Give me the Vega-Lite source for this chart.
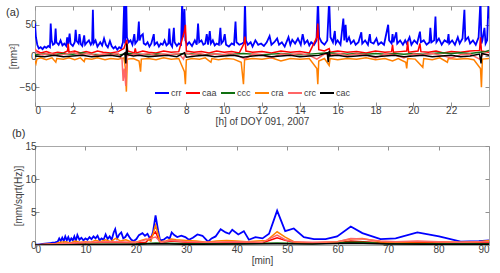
{
"$schema": "https://vega.github.io/schema/vega-lite/v6.json",
"padding": {"left": 5, "top": 5, "right": 3, "bottom": 2},
"config": {
  "font": "Liberation Sans",
  "view": {"stroke": "#a8a8a8"},
  "axis": {"labelFont": "Liberation Sans", "labelFontSize": 10, "labelColor": "#404040", "titleFont": "Liberation Sans", "titleFontSize": 10, "titleFontWeight": "normal", "titleColor": "#404040", "grid": false, "domain": false, "tickColor": "#909090", "tickSize": -4, "labelPadding": 3, "titlePadding": 1},
  "title": {"font": "Liberation Sans", "fontSize": 11, "fontWeight": "normal", "color": "#303030"},
  "legend": {"labelFont": "Liberation Sans"}
},
"spacing": 0,
"resolve": {"scale": {"color": "independent"}, "legend": {"color": "independent"}},
"datasets": {
"a": [
{"s":"crr","h":0,"v":52},{"s":"crr","h":0.05,"v":30},{"s":"crr","h":0.12,"v":18},{"s":"crr","h":0.2,"v":12},{"s":"crr","h":0.3,"v":14},{"s":"crr","h":0.4,"v":11},{"s":"crr","h":0.5,"v":15},{"s":"crr","h":0.6,"v":13},{"s":"crr","h":0.7,"v":16},{"s":"crr","h":0.79,"v":14},{"s":"crr","h":0.83,"v":52},{"s":"crr","h":0.88,"v":25},{"s":"crr","h":0.95,"v":18},{"s":"crr","h":1.04,"v":20},{"s":"crr","h":1.09,"v":44},{"s":"crr","h":1.13,"v":22},{"s":"crr","h":1.25,"v":18},{"s":"crr","h":1.35,"v":25},{"s":"crr","h":1.45,"v":17},{"s":"crr","h":1.55,"v":20},{"s":"crr","h":1.65,"v":16},{"s":"crr","h":1.7,"v":30},{"s":"crr","h":1.75,"v":18},{"s":"crr","h":1.83,"v":36},{"s":"crr","h":1.88,"v":20},{"s":"crr","h":2.0,"v":16},{"s":"crr","h":2.1,"v":22},{"s":"crr","h":2.15,"v":42},{"s":"crr","h":2.2,"v":24},{"s":"crr","h":2.3,"v":20},{"s":"crr","h":2.35,"v":35},{"s":"crr","h":2.42,"v":19},{"s":"crr","h":2.5,"v":16},{"s":"crr","h":2.6,"v":33},{"s":"crr","h":2.65,"v":18},{"s":"crr","h":2.75,"v":22},{"s":"crr","h":2.85,"v":25},{"s":"crr","h":2.95,"v":18},{"s":"crr","h":3.02,"v":22},{"s":"crr","h":3.06,"v":74},{"s":"crr","h":3.1,"v":20},{"s":"crr","h":3.2,"v":25},{"s":"crr","h":3.3,"v":15},{"s":"crr","h":3.45,"v":22},{"s":"crr","h":3.55,"v":17},{"s":"crr","h":3.65,"v":28},{"s":"crr","h":3.75,"v":18},{"s":"crr","h":3.85,"v":14},{"s":"crr","h":3.96,"v":24},{"s":"crr","h":4.05,"v":16},{"s":"crr","h":4.15,"v":12},{"s":"crr","h":4.25,"v":15},{"s":"crr","h":4.35,"v":10},{"s":"crr","h":4.45,"v":14},{"s":"crr","h":4.55,"v":12},{"s":"crr","h":4.65,"v":22},{"s":"crr","h":4.72,"v":90},{"s":"crr","h":4.76,"v":20},{"s":"crr","h":4.82,"v":92},{"s":"crr","h":4.86,"v":30},{"s":"crr","h":4.95,"v":22},{"s":"crr","h":5.05,"v":25},{"s":"crr","h":5.15,"v":18},{"s":"crr","h":5.25,"v":35},{"s":"crr","h":5.3,"v":20},{"s":"crr","h":5.42,"v":25},{"s":"crr","h":5.49,"v":55},{"s":"crr","h":5.53,"v":25},{"s":"crr","h":5.6,"v":32},{"s":"crr","h":5.7,"v":35},{"s":"crr","h":5.75,"v":20},{"s":"crr","h":5.85,"v":18},{"s":"crr","h":5.95,"v":22},{"s":"crr","h":6.05,"v":15},{"s":"crr","h":6.15,"v":20},{"s":"crr","h":6.28,"v":35},{"s":"crr","h":6.32,"v":18},{"s":"crr","h":6.45,"v":22},{"s":"crr","h":6.55,"v":15},{"s":"crr","h":6.65,"v":20},{"s":"crr","h":6.75,"v":18},{"s":"crr","h":6.85,"v":25},{"s":"crr","h":6.95,"v":17},{"s":"crr","h":7.05,"v":20},{"s":"crr","h":7.1,"v":44},{"s":"crr","h":7.15,"v":20},{"s":"crr","h":7.25,"v":15},{"s":"crr","h":7.34,"v":45},{"s":"crr","h":7.38,"v":22},{"s":"crr","h":7.5,"v":16},{"s":"crr","h":7.6,"v":20},{"s":"crr","h":7.72,"v":18},{"s":"crr","h":7.78,"v":90},{"s":"crr","h":7.82,"v":30},{"s":"crr","h":7.9,"v":75},{"s":"crr","h":7.95,"v":25},{"s":"crr","h":8.05,"v":18},{"s":"crr","h":8.15,"v":22},{"s":"crr","h":8.3,"v":16},{"s":"crr","h":8.45,"v":25},{"s":"crr","h":8.55,"v":18},{"s":"crr","h":8.62,"v":52},{"s":"crr","h":8.68,"v":22},{"s":"crr","h":8.8,"v":25},{"s":"crr","h":8.9,"v":18},{"s":"crr","h":9.0,"v":20},{"s":"crr","h":9.08,"v":35},{"s":"crr","h":9.15,"v":18},{"s":"crr","h":9.24,"v":40},{"s":"crr","h":9.3,"v":20},{"s":"crr","h":9.4,"v":25},{"s":"crr","h":9.5,"v":17},{"s":"crr","h":9.6,"v":20},{"s":"crr","h":9.72,"v":18},{"s":"crr","h":9.8,"v":45},{"s":"crr","h":9.85,"v":20},{"s":"crr","h":9.95,"v":24},{"s":"crr","h":10.03,"v":35},{"s":"crr","h":10.1,"v":18},{"s":"crr","h":10.25,"v":15},{"s":"crr","h":10.4,"v":20},{"s":"crr","h":10.52,"v":18},{"s":"crr","h":10.6,"v":55},{"s":"crr","h":10.65,"v":22},{"s":"crr","h":10.8,"v":18},{"s":"crr","h":10.95,"v":20},{"s":"crr","h":11.05,"v":22},{"s":"crr","h":11.1,"v":88},{"s":"crr","h":11.15,"v":25},{"s":"crr","h":11.25,"v":18},{"s":"crr","h":11.4,"v":22},{"s":"crr","h":11.5,"v":15},{"s":"crr","h":11.65,"v":25},{"s":"crr","h":11.8,"v":18},{"s":"crr","h":11.95,"v":20},{"s":"crr","h":12.1,"v":16},{"s":"crr","h":12.25,"v":22},{"s":"crr","h":12.4,"v":32},{"s":"crr","h":12.5,"v":18},{"s":"crr","h":12.65,"v":22},{"s":"crr","h":12.8,"v":28},{"s":"crr","h":12.9,"v":18},{"s":"crr","h":13.05,"v":22},{"s":"crr","h":13.2,"v":15},{"s":"crr","h":13.4,"v":30},{"s":"crr","h":13.5,"v":18},{"s":"crr","h":13.6,"v":26},{"s":"crr","h":13.75,"v":20},{"s":"crr","h":13.9,"v":28},{"s":"crr","h":14.05,"v":18},{"s":"crr","h":14.15,"v":35},{"s":"crr","h":14.25,"v":20},{"s":"crr","h":14.4,"v":25},{"s":"crr","h":14.5,"v":17},{"s":"crr","h":14.6,"v":22},{"s":"crr","h":14.75,"v":18},{"s":"crr","h":14.88,"v":25},{"s":"crr","h":14.96,"v":90},{"s":"crr","h":15.02,"v":30},{"s":"crr","h":15.15,"v":22},{"s":"crr","h":15.3,"v":18},{"s":"crr","h":15.45,"v":25},{"s":"crr","h":15.55,"v":90},{"s":"crr","h":15.62,"v":30},{"s":"crr","h":15.75,"v":22},{"s":"crr","h":15.85,"v":40},{"s":"crr","h":15.9,"v":20},{"s":"crr","h":16.0,"v":25},{"s":"crr","h":16.15,"v":18},{"s":"crr","h":16.3,"v":60},{"s":"crr","h":16.35,"v":25},{"s":"crr","h":16.42,"v":50},{"s":"crr","h":16.48,"v":22},{"s":"crr","h":16.6,"v":30},{"s":"crr","h":16.7,"v":20},{"s":"crr","h":16.85,"v":25},{"s":"crr","h":16.95,"v":18},{"s":"crr","h":17.1,"v":22},{"s":"crr","h":17.25,"v":38},{"s":"crr","h":17.3,"v":20},{"s":"crr","h":17.45,"v":25},{"s":"crr","h":17.6,"v":18},{"s":"crr","h":17.7,"v":35},{"s":"crr","h":17.75,"v":22},{"s":"crr","h":17.9,"v":20},{"s":"crr","h":18.05,"v":28},{"s":"crr","h":18.15,"v":18},{"s":"crr","h":18.3,"v":22},{"s":"crr","h":18.45,"v":18},{"s":"crr","h":18.6,"v":40},{"s":"crr","h":18.67,"v":50},{"s":"crr","h":18.72,"v":25},{"s":"crr","h":18.85,"v":20},{"s":"crr","h":18.9,"v":35},{"s":"crr","h":18.95,"v":22},{"s":"crr","h":19.1,"v":38},{"s":"crr","h":19.15,"v":20},{"s":"crr","h":19.3,"v":25},{"s":"crr","h":19.45,"v":18},{"s":"crr","h":19.57,"v":25},{"s":"crr","h":19.65,"v":20},{"s":"crr","h":19.8,"v":30},{"s":"crr","h":19.9,"v":18},{"s":"crr","h":20.05,"v":25},{"s":"crr","h":20.2,"v":20},{"s":"crr","h":20.35,"v":39},{"s":"crr","h":20.4,"v":22},{"s":"crr","h":20.55,"v":25},{"s":"crr","h":20.7,"v":18},{"s":"crr","h":20.85,"v":22},{"s":"crr","h":20.9,"v":45},{"s":"crr","h":20.96,"v":22},{"s":"crr","h":21.1,"v":25},{"s":"crr","h":21.17,"v":63},{"s":"crr","h":21.22,"v":22},{"s":"crr","h":21.35,"v":28},{"s":"crr","h":21.5,"v":18},{"s":"crr","h":21.65,"v":25},{"s":"crr","h":21.8,"v":22},{"s":"crr","h":21.86,"v":35},{"s":"crr","h":21.9,"v":20},{"s":"crr","h":22.05,"v":25},{"s":"crr","h":22.2,"v":18},{"s":"crr","h":22.35,"v":30},{"s":"crr","h":22.45,"v":20},{"s":"crr","h":22.6,"v":28},{"s":"crr","h":22.7,"v":74},{"s":"crr","h":22.75,"v":25},{"s":"crr","h":22.9,"v":30},{"s":"crr","h":23.0,"v":20},{"s":"crr","h":23.15,"v":25},{"s":"crr","h":23.3,"v":18},{"s":"crr","h":23.45,"v":30},{"s":"crr","h":23.55,"v":90},{"s":"crr","h":23.6,"v":20},{"s":"crr","h":23.65,"v":25},{"s":"crr","h":23.76,"v":45},{"s":"crr","h":23.82,"v":20},{"s":"crr","h":23.9,"v":25},{"s":"crr","h":23.97,"v":85},{"s":"crr","h":24,"v":60},
{"s":"caa","h":0,"v":10},{"s":"caa","h":0.1,"v":8},{"s":"caa","h":0.3,"v":5},{"s":"caa","h":0.6,"v":7},{"s":"caa","h":0.9,"v":4},{"s":"caa","h":1.2,"v":6},{"s":"caa","h":1.5,"v":5},{"s":"caa","h":1.72,"v":8},{"s":"caa","h":1.75,"v":20},{"s":"caa","h":1.8,"v":6},{"s":"caa","h":2.1,"v":8},{"s":"caa","h":2.4,"v":5},{"s":"caa","h":2.7,"v":7},{"s":"caa","h":3.0,"v":5},{"s":"caa","h":3.3,"v":8},{"s":"caa","h":3.6,"v":6},{"s":"caa","h":4.0,"v":5},{"s":"caa","h":4.4,"v":7},{"s":"caa","h":4.7,"v":12},{"s":"caa","h":4.85,"v":26},{"s":"caa","h":4.9,"v":8},{"s":"caa","h":5.25,"v":5},{"s":"caa","h":5.3,"v":12},{"s":"caa","h":5.35,"v":5},{"s":"caa","h":5.7,"v":8},{"s":"caa","h":6.0,"v":6},{"s":"caa","h":6.4,"v":5},{"s":"caa","h":6.8,"v":8},{"s":"caa","h":7.2,"v":6},{"s":"caa","h":7.6,"v":7},{"s":"caa","h":7.9,"v":40},{"s":"caa","h":7.95,"v":50},{"s":"caa","h":8.0,"v":8},{"s":"caa","h":8.4,"v":6},{"s":"caa","h":8.8,"v":7},{"s":"caa","h":9.2,"v":5},{"s":"caa","h":9.6,"v":8},{"s":"caa","h":10.0,"v":6},{"s":"caa","h":10.4,"v":7},{"s":"caa","h":10.8,"v":5},{"s":"caa","h":11.05,"v":20},{"s":"caa","h":11.1,"v":31},{"s":"caa","h":11.15,"v":8},{"s":"caa","h":11.5,"v":6},{"s":"caa","h":12,"v":7},{"s":"caa","h":12.5,"v":5},{"s":"caa","h":13,"v":8},{"s":"caa","h":13.5,"v":6},{"s":"caa","h":14,"v":7},{"s":"caa","h":14.5,"v":5},{"s":"caa","h":14.9,"v":30},{"s":"caa","h":14.95,"v":52},{"s":"caa","h":15.0,"v":10},{"s":"caa","h":15.3,"v":8},{"s":"caa","h":15.55,"v":12},{"s":"caa","h":15.6,"v":6},{"s":"caa","h":16,"v":8},{"s":"caa","h":16.5,"v":6},{"s":"caa","h":17,"v":7},{"s":"caa","h":17.5,"v":5},{"s":"caa","h":18,"v":8},{"s":"caa","h":18.5,"v":6},{"s":"caa","h":18.85,"v":7},{"s":"caa","h":18.9,"v":18},{"s":"caa","h":18.95,"v":6},{"s":"caa","h":19.3,"v":7},{"s":"caa","h":19.65,"v":8},{"s":"caa","h":19.7,"v":23},{"s":"caa","h":19.75,"v":6},{"s":"caa","h":20.25,"v":8},{"s":"caa","h":20.35,"v":20},{"s":"caa","h":20.4,"v":7},{"s":"caa","h":20.8,"v":6},{"s":"caa","h":21.2,"v":8},{"s":"caa","h":21.6,"v":5},{"s":"caa","h":22,"v":7},{"s":"caa","h":22.5,"v":6},{"s":"caa","h":23,"v":8},{"s":"caa","h":23.5,"v":9},{"s":"caa","h":23.55,"v":30},{"s":"caa","h":23.6,"v":8},{"s":"caa","h":24,"v":6},
{"s":"ccc","h":0,"v":2},{"s":"ccc","h":0.5,"v":3},{"s":"ccc","h":1,"v":2},{"s":"ccc","h":1.5,"v":4},{"s":"ccc","h":2,"v":3},{"s":"ccc","h":2.5,"v":5},{"s":"ccc","h":3,"v":3},{"s":"ccc","h":3.5,"v":2},{"s":"ccc","h":4,"v":3},{"s":"ccc","h":4.5,"v":2},{"s":"ccc","h":5,"v":4},{"s":"ccc","h":5.5,"v":3},{"s":"ccc","h":6,"v":2},{"s":"ccc","h":6.5,"v":3},{"s":"ccc","h":7,"v":2},{"s":"ccc","h":7.5,"v":3},{"s":"ccc","h":8,"v":4},{"s":"ccc","h":8.5,"v":3},{"s":"ccc","h":9,"v":2},{"s":"ccc","h":9.5,"v":3},{"s":"ccc","h":10,"v":2},{"s":"ccc","h":10.5,"v":3},{"s":"ccc","h":11,"v":4},{"s":"ccc","h":11.5,"v":3},{"s":"ccc","h":12,"v":2},{"s":"ccc","h":12.5,"v":3},{"s":"ccc","h":13,"v":4},{"s":"ccc","h":13.5,"v":3},{"s":"ccc","h":14,"v":2},{"s":"ccc","h":14.5,"v":3},{"s":"ccc","h":15,"v":4},{"s":"ccc","h":15.5,"v":5},{"s":"ccc","h":16,"v":4},{"s":"ccc","h":16.5,"v":3},{"s":"ccc","h":17,"v":4},{"s":"ccc","h":17.5,"v":3},{"s":"ccc","h":18,"v":4},{"s":"ccc","h":18.5,"v":3},{"s":"ccc","h":19,"v":4},{"s":"ccc","h":19.5,"v":3},{"s":"ccc","h":20,"v":4},{"s":"ccc","h":20.5,"v":3},{"s":"ccc","h":21,"v":4},{"s":"ccc","h":21.5,"v":5},{"s":"ccc","h":22,"v":4},{"s":"ccc","h":22.5,"v":5},{"s":"ccc","h":23,"v":4},{"s":"ccc","h":23.5,"v":6},{"s":"ccc","h":23.8,"v":7},{"s":"ccc","h":24,"v":9},
{"s":"cra","h":0,"v":-8},{"s":"cra","h":0.05,"v":-12},{"s":"cra","h":0.1,"v":-5},{"s":"cra","h":0.3,"v":-3},{"s":"cra","h":0.6,"v":-6},{"s":"cra","h":0.9,"v":-3},{"s":"cra","h":1.1,"v":-10},{"s":"cra","h":1.15,"v":-4},{"s":"cra","h":1.5,"v":-5},{"s":"cra","h":1.8,"v":-3},{"s":"cra","h":2.1,"v":-6},{"s":"cra","h":2.4,"v":-3},{"s":"cra","h":2.6,"v":-9},{"s":"cra","h":2.65,"v":-4},{"s":"cra","h":3.0,"v":-5},{"s":"cra","h":3.3,"v":-3},{"s":"cra","h":3.7,"v":-6},{"s":"cra","h":4.0,"v":-4},{"s":"cra","h":4.4,"v":-5},{"s":"cra","h":4.7,"v":-3},{"s":"cra","h":4.78,"v":-20},{"s":"cra","h":4.83,"v":-57},{"s":"cra","h":4.88,"v":-5},{"s":"cra","h":5.2,"v":-4},{"s":"cra","h":5.5,"v":-8},{"s":"cra","h":5.58,"v":-25},{"s":"cra","h":5.62,"v":-5},{"s":"cra","h":6.0,"v":-4},{"s":"cra","h":6.4,"v":-6},{"s":"cra","h":6.8,"v":-3},{"s":"cra","h":7.2,"v":-5},{"s":"cra","h":7.6,"v":-4},{"s":"cra","h":7.9,"v":-25},{"s":"cra","h":7.95,"v":-45},{"s":"cra","h":8.0,"v":-6},{"s":"cra","h":8.3,"v":-4},{"s":"cra","h":8.7,"v":-5},{"s":"cra","h":9.0,"v":-3},{"s":"cra","h":9.3,"v":-10},{"s":"cra","h":9.35,"v":-4},{"s":"cra","h":9.7,"v":-6},{"s":"cra","h":10.1,"v":-4},{"s":"cra","h":10.5,"v":-5},{"s":"cra","h":10.9,"v":-10},{"s":"cra","h":11.02,"v":-45},{"s":"cra","h":11.08,"v":-6},{"s":"cra","h":11.5,"v":-4},{"s":"cra","h":12,"v":-5},{"s":"cra","h":12.5,"v":-3},{"s":"cra","h":13,"v":-8},{"s":"cra","h":13.5,"v":-4},{"s":"cra","h":14,"v":-5},{"s":"cra","h":14.5,"v":-4},{"s":"cra","h":14.9,"v":-20},{"s":"cra","h":14.95,"v":-45},{"s":"cra","h":15.0,"v":-8},{"s":"cra","h":15.3,"v":-4},{"s":"cra","h":15.55,"v":-15},{"s":"cra","h":15.6,"v":-4},{"s":"cra","h":16,"v":-6},{"s":"cra","h":16.5,"v":-4},{"s":"cra","h":17,"v":-5},{"s":"cra","h":17.5,"v":-3},{"s":"cra","h":18,"v":-6},{"s":"cra","h":18.5,"v":-4},{"s":"cra","h":18.9,"v":-8},{"s":"cra","h":19.2,"v":-4},{"s":"cra","h":19.6,"v":-10},{"s":"cra","h":19.65,"v":-20},{"s":"cra","h":19.7,"v":-4},{"s":"cra","h":20.1,"v":-5},{"s":"cra","h":20.5,"v":-18},{"s":"cra","h":20.55,"v":-4},{"s":"cra","h":21,"v":-6},{"s":"cra","h":21.4,"v":-3},{"s":"cra","h":21.8,"v":-10},{"s":"cra","h":21.85,"v":-4},{"s":"cra","h":22.3,"v":-5},{"s":"cra","h":22.8,"v":-4},{"s":"cra","h":23.2,"v":-6},{"s":"cra","h":23.55,"v":-20},{"s":"cra","h":23.6,"v":-50},{"s":"cra","h":23.65,"v":-5},{"s":"cra","h":24,"v":-4},
{"s":"crc","h":0,"v":12},{"s":"crc","h":0.1,"v":5},{"s":"crc","h":0.4,"v":2},{"s":"crc","h":0.8,"v":4},{"s":"crc","h":1.2,"v":1},{"s":"crc","h":1.6,"v":3},{"s":"crc","h":2.0,"v":6},{"s":"crc","h":2.4,"v":2},{"s":"crc","h":2.8,"v":4},{"s":"crc","h":3.2,"v":1},{"s":"crc","h":3.6,"v":3},{"s":"crc","h":4.0,"v":2},{"s":"crc","h":4.4,"v":4},{"s":"crc","h":4.6,"v":-5},{"s":"crc","h":4.66,"v":-40},{"s":"crc","h":4.72,"v":-20},{"s":"crc","h":4.8,"v":-48},{"s":"crc","h":4.86,"v":0},{"s":"crc","h":5.2,"v":3},{"s":"crc","h":5.6,"v":2},{"s":"crc","h":6.0,"v":4},{"s":"crc","h":6.4,"v":1},{"s":"crc","h":6.8,"v":3},{"s":"crc","h":7.2,"v":2},{"s":"crc","h":7.6,"v":4},{"s":"crc","h":7.85,"v":-5},{"s":"crc","h":7.95,"v":5},{"s":"crc","h":8.3,"v":2},{"s":"crc","h":8.7,"v":4},{"s":"crc","h":9.1,"v":1},{"s":"crc","h":9.5,"v":3},{"s":"crc","h":9.9,"v":2},{"s":"crc","h":10.3,"v":4},{"s":"crc","h":10.7,"v":1},{"s":"crc","h":11.1,"v":-5},{"s":"crc","h":11.5,"v":3},{"s":"crc","h":12,"v":2},{"s":"crc","h":12.5,"v":-3},{"s":"crc","h":13,"v":3},{"s":"crc","h":13.5,"v":2},{"s":"crc","h":14,"v":4},{"s":"crc","h":14.5,"v":1},{"s":"crc","h":14.9,"v":-5},{"s":"crc","h":15.3,"v":3},{"s":"crc","h":15.7,"v":2},{"s":"crc","h":16.1,"v":4},{"s":"crc","h":16.5,"v":1},{"s":"crc","h":17,"v":3},{"s":"crc","h":17.5,"v":2},{"s":"crc","h":18,"v":-3},{"s":"crc","h":18.5,"v":3},{"s":"crc","h":19,"v":2},{"s":"crc","h":19.5,"v":-3},{"s":"crc","h":20,"v":3},{"s":"crc","h":20.5,"v":2},{"s":"crc","h":21,"v":4},{"s":"crc","h":21.5,"v":1},{"s":"crc","h":22,"v":-3},{"s":"crc","h":22.5,"v":2},{"s":"crc","h":23,"v":3},{"s":"crc","h":23.5,"v":-5},{"s":"crc","h":23.7,"v":3},{"s":"crc","h":24,"v":2},
{"s":"cac","h":0,"v":0},{"s":"cac","h":0.5,"v":-1},{"s":"cac","h":1,"v":1},{"s":"cac","h":1.5,"v":-1},{"s":"cac","h":2,"v":0},{"s":"cac","h":2.5,"v":1},{"s":"cac","h":3,"v":-1},{"s":"cac","h":3.5,"v":0},{"s":"cac","h":4,"v":1},{"s":"cac","h":4.5,"v":-1},{"s":"cac","h":4.75,"v":5},{"s":"cac","h":4.8,"v":-12},{"s":"cac","h":4.85,"v":20},{"s":"cac","h":4.9,"v":2},{"s":"cac","h":5.2,"v":0},{"s":"cac","h":5.5,"v":1},{"s":"cac","h":6,"v":-1},{"s":"cac","h":6.5,"v":0},{"s":"cac","h":7,"v":1},{"s":"cac","h":7.5,"v":-1},{"s":"cac","h":7.9,"v":5},{"s":"cac","h":8.0,"v":-2},{"s":"cac","h":8.5,"v":0},{"s":"cac","h":9,"v":1},{"s":"cac","h":9.5,"v":-1},{"s":"cac","h":10,"v":0},{"s":"cac","h":10.5,"v":1},{"s":"cac","h":11,"v":-2},{"s":"cac","h":11.5,"v":0},{"s":"cac","h":12,"v":1},{"s":"cac","h":12.5,"v":-1},{"s":"cac","h":13,"v":0},{"s":"cac","h":13.5,"v":1},{"s":"cac","h":14,"v":-1},{"s":"cac","h":14.5,"v":0},{"s":"cac","h":15,"v":1},{"s":"cac","h":15.45,"v":5},{"s":"cac","h":15.5,"v":-10},{"s":"cac","h":15.55,"v":8},{"s":"cac","h":15.6,"v":0},{"s":"cac","h":16,"v":1},{"s":"cac","h":16.5,"v":-1},{"s":"cac","h":17,"v":0},{"s":"cac","h":17.5,"v":1},{"s":"cac","h":18,"v":-1},{"s":"cac","h":18.5,"v":0},{"s":"cac","h":19,"v":1},{"s":"cac","h":19.5,"v":-1},{"s":"cac","h":20,"v":0},{"s":"cac","h":20.5,"v":1},{"s":"cac","h":21,"v":-1},{"s":"cac","h":21.5,"v":0},{"s":"cac","h":22,"v":1},{"s":"cac","h":22.5,"v":-1},{"s":"cac","h":23,"v":0},{"s":"cac","h":23.5,"v":3},{"s":"cac","h":23.58,"v":-12},{"s":"cac","h":23.62,"v":4},{"s":"cac","h":24,"v":1}
],
"b": [
{"s":"crr","m":0,"v":0},{"s":"crr","m":0.5,"v":0.05},{"s":"crr","m":1,"v":0.1},{"s":"crr","m":1.5,"v":0.15},{"s":"crr","m":2,"v":0.2},{"s":"crr","m":2.5,"v":0.25},{"s":"crr","m":3,"v":0.3},{"s":"crr","m":3.5,"v":0.35},{"s":"crr","m":4,"v":0.4},{"s":"crr","m":4.5,"v":0.5},{"s":"crr","m":4.8,"v":1.0},{"s":"crr","m":5.1,"v":0.6},{"s":"crr","m":5.4,"v":1.1},{"s":"crr","m":5.7,"v":0.6},{"s":"crr","m":6,"v":1.3},{"s":"crr","m":6.3,"v":0.7},{"s":"crr","m":6.6,"v":1.2},{"s":"crr","m":6.9,"v":0.6},{"s":"crr","m":7.2,"v":1.0},{"s":"crr","m":7.5,"v":0.7},{"s":"crr","m":7.8,"v":1.3},{"s":"crr","m":8.1,"v":0.6},{"s":"crr","m":8.4,"v":1.5},{"s":"crr","m":8.8,"v":0.8},{"s":"crr","m":9.2,"v":1.1},{"s":"crr","m":9.6,"v":0.7},{"s":"crr","m":10,"v":1.0},{"s":"crr","m":10.4,"v":0.8},{"s":"crr","m":10.8,"v":1.2},{"s":"crr","m":11.2,"v":0.9},{"s":"crr","m":11.6,"v":1.3},{"s":"crr","m":12,"v":1.0},{"s":"crr","m":12.4,"v":1.4},{"s":"crr","m":12.8,"v":0.7},{"s":"crr","m":13.2,"v":1.0},{"s":"crr","m":13.6,"v":0.8},{"s":"crr","m":14,"v":1.6},{"s":"crr","m":14.4,"v":0.9},{"s":"crr","m":14.8,"v":1.3},{"s":"crr","m":15.2,"v":0.8},{"s":"crr","m":15.6,"v":1.9},{"s":"crr","m":15.9,"v":2.4},{"s":"crr","m":16.3,"v":1.0},{"s":"crr","m":16.7,"v":1.6},{"s":"crr","m":17.1,"v":1.9},{"s":"crr","m":17.5,"v":1.0},{"s":"crr","m":17.9,"v":1.2},{"s":"crr","m":18.3,"v":1.7},{"s":"crr","m":18.7,"v":1.2},{"s":"crr","m":19.1,"v":0.8},{"s":"crr","m":19.6,"v":0.6},{"s":"crr","m":20.1,"v":0.9},{"s":"crr","m":20.6,"v":1.5},{"s":"crr","m":21.3,"v":1.8},{"s":"crr","m":21.8,"v":1.4},{"s":"crr","m":22.3,"v":1.7},{"s":"crr","m":22.9,"v":0.8},{"s":"crr","m":23.4,"v":2.0},{"s":"crr","m":23.9,"v":4.5},{"s":"crr","m":24.4,"v":2.2},{"s":"crr","m":24.8,"v":0.7},{"s":"crr","m":25.5,"v":0.8},{"s":"crr","m":26.2,"v":1.2},{"s":"crr","m":26.7,"v":1.0},{"s":"crr","m":27.1,"v":1.9},{"s":"crr","m":27.6,"v":1.5},{"s":"crr","m":28.2,"v":1.2},{"s":"crr","m":29,"v":1.4},{"s":"crr","m":29.8,"v":1.2},{"s":"crr","m":30.5,"v":0.8},{"s":"crr","m":31.3,"v":1.1},{"s":"crr","m":32.2,"v":1.6},{"s":"crr","m":33.2,"v":1.4},{"s":"crr","m":34.3,"v":0.5},{"s":"crr","m":35,"v":1.0},{"s":"crr","m":35.8,"v":1.3},{"s":"crr","m":36.8,"v":2.4},{"s":"crr","m":37.8,"v":1.9},{"s":"crr","m":38.5,"v":1.7},{"s":"crr","m":39.1,"v":2.3},{"s":"crr","m":40.3,"v":1.6},{"s":"crr","m":41.4,"v":2.1},{"s":"crr","m":42.4,"v":0.8},{"s":"crr","m":43.7,"v":1.2},{"s":"crr","m":45.1,"v":1.0},{"s":"crr","m":46.4,"v":1.7},{"s":"crr","m":48,"v":5.2},{"s":"crr","m":49.6,"v":2.1},{"s":"crr","m":51.3,"v":2.5},{"s":"crr","m":53.3,"v":1.2},{"s":"crr","m":55.3,"v":0.9},{"s":"crr","m":57.6,"v":0.9},{"s":"crr","m":59.9,"v":1.3},{"s":"crr","m":62.6,"v":2.8},{"s":"crr","m":64.9,"v":1.8},{"s":"crr","m":68.5,"v":0.9},{"s":"crr","m":71.5,"v":1.0},{"s":"crr","m":75.8,"v":1.9},{"s":"crr","m":80.1,"v":1.3},{"s":"crr","m":84.4,"v":0.5},{"s":"crr","m":88,"v":0.6},{"s":"crr","m":90,"v":0.7},
{"s":"caa","m":0,"v":0},{"s":"caa","m":5,"v":0.2},{"s":"caa","m":10,"v":0.3},{"s":"caa","m":15,"v":0.4},{"s":"caa","m":20,"v":0.3},{"s":"caa","m":22,"v":0.4},{"s":"caa","m":23.9,"v":2.0},{"s":"caa","m":24.8,"v":0.3},{"s":"caa","m":27,"v":0.6},{"s":"caa","m":30,"v":0.4},{"s":"caa","m":35,"v":0.3},{"s":"caa","m":40,"v":0.4},{"s":"caa","m":45,"v":0.3},{"s":"caa","m":48,"v":1.1},{"s":"caa","m":49.6,"v":0.7},{"s":"caa","m":51.3,"v":0.4},{"s":"caa","m":55,"v":0.3},{"s":"caa","m":60,"v":0.3},{"s":"caa","m":62.6,"v":0.6},{"s":"caa","m":65,"v":0.5},{"s":"caa","m":70,"v":0.3},{"s":"caa","m":75.8,"v":0.4},{"s":"caa","m":80,"v":0.3},{"s":"caa","m":85,"v":0.3},{"s":"caa","m":90,"v":0.4},
{"s":"ccc","m":0,"v":0},{"s":"ccc","m":10,"v":0.1},{"s":"ccc","m":20,"v":0.15},{"s":"ccc","m":24,"v":0.3},{"s":"ccc","m":30,"v":0.2},{"s":"ccc","m":40,"v":0.2},{"s":"ccc","m":48,"v":0.3},{"s":"ccc","m":55,"v":0.2},{"s":"ccc","m":62.6,"v":0.4},{"s":"ccc","m":65,"v":0.4},{"s":"ccc","m":70,"v":0.2},{"s":"ccc","m":80,"v":0.2},{"s":"ccc","m":90,"v":0.2},
{"s":"cra","m":0,"v":0},{"s":"cra","m":2,"v":0.1},{"s":"cra","m":4,"v":0.2},{"s":"cra","m":5,"v":0.4},{"s":"cra","m":6,"v":0.5},{"s":"cra","m":7,"v":0.3},{"s":"cra","m":8,"v":0.6},{"s":"cra","m":9,"v":0.4},{"s":"cra","m":10,"v":0.5},{"s":"cra","m":11,"v":0.4},{"s":"cra","m":12,"v":0.7},{"s":"cra","m":13,"v":0.5},{"s":"cra","m":14,"v":0.8},{"s":"cra","m":15,"v":0.5},{"s":"cra","m":16,"v":1.0},{"s":"cra","m":17,"v":0.6},{"s":"cra","m":18,"v":0.8},{"s":"cra","m":19,"v":0.5},{"s":"cra","m":20,"v":0.4},{"s":"cra","m":21,"v":0.7},{"s":"cra","m":22,"v":0.9},{"s":"cra","m":23,"v":0.6},{"s":"cra","m":23.9,"v":3.0},{"s":"cra","m":24.8,"v":0.5},{"s":"cra","m":26,"v":0.6},{"s":"cra","m":27,"v":0.9},{"s":"cra","m":28,"v":0.8},{"s":"cra","m":30,"v":0.7},{"s":"cra","m":32,"v":0.6},{"s":"cra","m":34,"v":0.4},{"s":"cra","m":36,"v":0.6},{"s":"cra","m":38,"v":0.7},{"s":"cra","m":40,"v":0.6},{"s":"cra","m":42,"v":0.5},{"s":"cra","m":44,"v":0.6},{"s":"cra","m":46,"v":0.7},{"s":"cra","m":48,"v":2.0},{"s":"cra","m":49.6,"v":1.2},{"s":"cra","m":51.3,"v":0.5},{"s":"cra","m":53.3,"v":0.3},{"s":"cra","m":55.3,"v":0.3},{"s":"cra","m":57.6,"v":0.4},{"s":"cra","m":59.9,"v":0.5},{"s":"cra","m":62.6,"v":0.9},{"s":"cra","m":64.9,"v":1.0},{"s":"cra","m":68.5,"v":0.5},{"s":"cra","m":71.5,"v":0.4},{"s":"cra","m":75.8,"v":0.5},{"s":"cra","m":80.1,"v":0.5},{"s":"cra","m":84.4,"v":0.4},{"s":"cra","m":88,"v":0.5},{"s":"cra","m":90,"v":0.7},
{"s":"crc","m":0,"v":0},{"s":"crc","m":5,"v":0.2},{"s":"crc","m":10,"v":0.4},{"s":"crc","m":15,"v":0.5},{"s":"crc","m":20,"v":0.4},{"s":"crc","m":23.9,"v":1.2},{"s":"crc","m":25,"v":0.4},{"s":"crc","m":27,"v":0.7},{"s":"crc","m":30,"v":0.5},{"s":"crc","m":35,"v":0.4},{"s":"crc","m":40,"v":0.5},{"s":"crc","m":45,"v":0.4},{"s":"crc","m":48,"v":1.5},{"s":"crc","m":49.6,"v":0.8},{"s":"crc","m":51.3,"v":0.5},{"s":"crc","m":55,"v":0.4},{"s":"crc","m":60,"v":0.5},{"s":"crc","m":62.6,"v":1.0},{"s":"crc","m":64.9,"v":0.9},{"s":"crc","m":68.5,"v":0.6},{"s":"crc","m":71.5,"v":0.5},{"s":"crc","m":75.8,"v":0.6},{"s":"crc","m":80,"v":0.5},{"s":"crc","m":84,"v":0.4},{"s":"crc","m":88,"v":0.5},{"s":"crc","m":90,"v":0.5},
{"s":"cac","m":0,"v":0},{"s":"cac","m":10,"v":0.05},{"s":"cac","m":20,"v":0.1},{"s":"cac","m":24,"v":0.2},{"s":"cac","m":30,"v":0.1},{"s":"cac","m":40,"v":0.15},{"s":"cac","m":48,"v":0.2},{"s":"cac","m":55,"v":0.15},{"s":"cac","m":62.6,"v":0.25},{"s":"cac","m":70,"v":0.15},{"s":"cac","m":80,"v":0.1},{"s":"cac","m":90,"v":0.1}
]
},
"vconcat": [
{
  "width": 454, "height": 100,
  "title": {"text": "(a)", "anchor": "start", "frame": "bounds", "offset": -12, "dx": -2},
  "data": {"name": "a"},
  "resolve": {"axis": {"x": "independent", "y": "independent"}},
  "layer": [
    {
      "transform": [{"filter": "datum.s === 'crr'"}],
      "mark": {"type": "line", "strokeWidth": 1.8, "clip": true},
      "encoding": {
        "x": {"field": "h", "type": "quantitative", "scale": {"domain": [0, 24], "nice": false, "zero": false}, "axis": {"values": [0,2,4,6,8,10,12,14,16,18,20,22], "title": "[h] of DOY 091, 2007"}},
        "y": {"field": "v", "type": "quantitative", "scale": {"domain": [-80, 80], "nice": false}, "axis": {"values": [-50, 0, 50], "title": "[mm²]"}},
        "color": {"field": "s", "type": "nominal", "scale": {"domain": ["crr","caa","ccc","cra","crc","cac"], "range": ["#0000ff","#ff0000","#107010","#ff8000","#ff6666","#000000"]},
          "legend": {"orient": "none", "legendX": 119, "legendY": 79, "direction": "horizontal", "columns": 6, "title": null, "symbolType": "stroke", "symbolSize": 196, "symbolStrokeWidth": 2, "labelFontSize": 9, "labelColor": "#404040", "labelOffset": 1, "columnPadding": 0, "padding": 0}}
      }
    },
    {
      "transform": [{"filter": "datum.s !== 'crr'"}],
      "mark": {"type": "line", "strokeWidth": 1.5, "clip": true},
      "encoding": {
        "x": {"field": "h", "type": "quantitative", "scale": {"domain": [0, 24], "nice": false, "zero": false}, "axis": {"orient": "top", "values": [0,2,4,6,8,10,12,14,16,18,20,22], "labels": false, "title": null}},
        "y": {"field": "v", "type": "quantitative", "scale": {"domain": [-80, 80], "nice": false}, "axis": {"orient": "right", "values": [-50, 0, 50], "labels": false, "title": null}},
        "color": {"field": "s", "type": "nominal", "scale": {"domain": ["crr","caa","ccc","cra","crc","cac"], "range": ["#0000ff","#ff0000","#107010","#ff8000","#ff6666","#000000"]}}
      }
    }
  ]
},
{
  "width": 454, "height": 99,
  "title": {"text": "(b)", "anchor": "start", "frame": "bounds", "offset": 2, "dx": -2},
  "data": {"name": "b"},
  "resolve": {"axis": {"x": "independent", "y": "independent"}},
  "layer": [
    {
      "transform": [{"filter": "datum.s === 'crr'"}],
      "mark": {"type": "line", "strokeWidth": 1.8, "clip": true},
      "encoding": {
        "x": {"field": "m", "type": "quantitative", "scale": {"domain": [0, 90], "nice": false}, "axis": {"values": [0,10,20,30,40,50,60,70,80,90], "title": "[min]"}},
        "y": {"field": "v", "type": "quantitative", "scale": {"domain": [0, 15], "nice": false}, "axis": {"values": [0, 5, 10, 15], "title": "[mm/sqrt(Hz)]"}},
        "color": {"field": "s", "type": "nominal", "scale": {"domain": ["crr","caa","ccc","cra","crc","cac"], "range": ["#0000ff","#ff0000","#107010","#ff8000","#ff6666","#000000"]}, "legend": null}
      }
    },
    {
      "transform": [{"filter": "datum.s !== 'crr'"}],
      "mark": {"type": "line", "strokeWidth": 1.5, "clip": true},
      "encoding": {
        "x": {"field": "m", "type": "quantitative", "scale": {"domain": [0, 90], "nice": false}, "axis": {"orient": "top", "values": [0,10,20,30,40,50,60,70,80,90], "labels": false, "title": null}},
        "y": {"field": "v", "type": "quantitative", "scale": {"domain": [0, 15], "nice": false}, "axis": {"orient": "right", "values": [0, 5, 10, 15], "labels": false, "title": null}},
        "color": {"field": "s", "type": "nominal", "scale": {"domain": ["crr","caa","ccc","cra","crc","cac"], "range": ["#0000ff","#ff0000","#107010","#ff8000","#ff6666","#000000"]}, "legend": null}
      }
    }
  ]
}
]
}
